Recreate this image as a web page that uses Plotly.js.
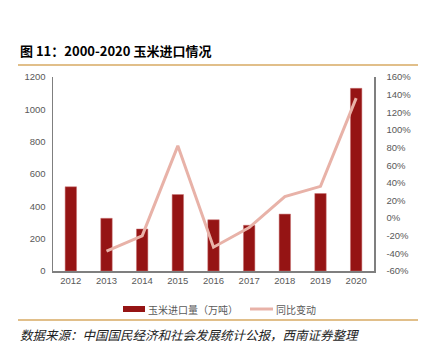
<!DOCTYPE html>
<html><head><meta charset="utf-8">
<script src="https://cdn.plot.ly/plotly-3.0.1.min.js"></script>
<style>html,body{margin:0;padding:0;background:#fff}#c{width:426px;height:354px}</style>
</head><body><div id="c"></div>
<script>
const years = ['2012','2013','2014','2015','2016','2017','2018','2019','2020'];
const imports = [521, 326, 260, 473, 317, 283, 352, 479, 1130];
const yoy = [null, -37.4, -20.2, 81.9, -33.0, -10.8, 24.4, 36.0, 136.0];
const leftTicks = [0,200,400,600,800,1000,1200];
const rightTicks = [-60,-40,-20,0,20,40,60,80,100,120,140,160];
const seriesNames = ['玉米进口量（万吨）','同比变动'];

const barColor = '#951414', lineColor = '#e8b2a8';
const px = v => (v-53)/321, py = v => (271-v)/194;
const tickFont = {family:'Liberation Sans, Arial, sans-serif', size:9.5, color:'#595959'};
const legFont = {family:'Noto Sans CJK SC, sans-serif', size:10, color:'#595959'};
const traces = [
  {type:'bar', x:years, y:imports, name:seriesNames[0], width:0.32,
   marker:{color:barColor, line:{color:'#c87070', width:0.5}}},
  {type:'scatter', mode:'lines', x:years, y:yoy, name:seriesNames[1], yaxis:'y2',
   line:{color:lineColor, width:3}, connectgaps:false}
];
const layout = {
  width:426, height:354, margin:{l:53, r:52, t:77, b:83},
  paper_bgcolor:'#fff', plot_bgcolor:'#fff', showlegend:false,
  xaxis:{type:'category', tickfont:tickFont, showline:true, linecolor:'#7f7f7f', linewidth:1.5,
    ticks:'', showgrid:false, zeroline:false, fixedrange:true},
  yaxis:{range:[0,1200], tickvals:leftTicks, tickformat:'d', tickfont:tickFont, showline:true, linecolor:'#7f7f7f',
    linewidth:1.5, showgrid:false, zeroline:false, ticks:'', ticklabelstandoff:4},
  yaxis2:{overlaying:'y', side:'right', range:[-60,160], tickvals:rightTicks,
    ticktext:rightTicks.map(v=>v+'%'), tickfont:tickFont, showline:true, linecolor:'#7f7f7f',
    linewidth:1.5, showgrid:false, zeroline:false, ticks:'', ticklabelstandoff:9},
  shapes:[
    {type:'line', xref:'paper', yref:'paper', x0:px(18), x1:px(418), y0:py(65), y1:py(65),
     line:{color:'#d7aa63', width:1.5}},
    {type:'line', xref:'paper', yref:'paper', x0:px(18), x1:px(418), y0:py(320), y1:py(320),
     line:{color:'#d7aa63', width:1.5}},
    {type:'rect', xref:'paper', yref:'paper', x0:px(123), x1:px(145), y0:py(312), y1:py(306),
     fillcolor:barColor, line:{width:0}},
    {type:'line', xref:'paper', yref:'paper', x0:px(250), x1:px(273), y0:py(309), y1:py(309),
     line:{color:lineColor, width:3}}
  ],
  annotations:[
    {xref:'paper', yref:'paper', x:px(18), y:py(50), xanchor:'left', yanchor:'middle', showarrow:false,
     text:'<b>图 11：2000-2020 玉米进口情况</b>', font:{family:'Noto Sans CJK SC, sans-serif', size:13, color:'#000'}},
    {xref:'paper', yref:'paper', x:px(146), y:py(309), xanchor:'left', yanchor:'middle', showarrow:false,
     text:seriesNames[0], font:legFont},
    {xref:'paper', yref:'paper', x:px(274), y:py(309), xanchor:'left', yanchor:'middle', showarrow:false,
     text:seriesNames[1], font:legFont},
    {xref:'paper', yref:'paper', x:px(18), y:py(334), xanchor:'left', yanchor:'middle', showarrow:false,
     text:'<i>数据来源：中国国民经济和社会发展统计公报，西南证券整理</i>', font:{family:'Noto Sans CJK SC, sans-serif', size:12.5, color:'#222'}}
  ]
};
Plotly.newPlot('c', traces, layout, {displayModeBar:false, staticPlot:true});
</script></body></html>
